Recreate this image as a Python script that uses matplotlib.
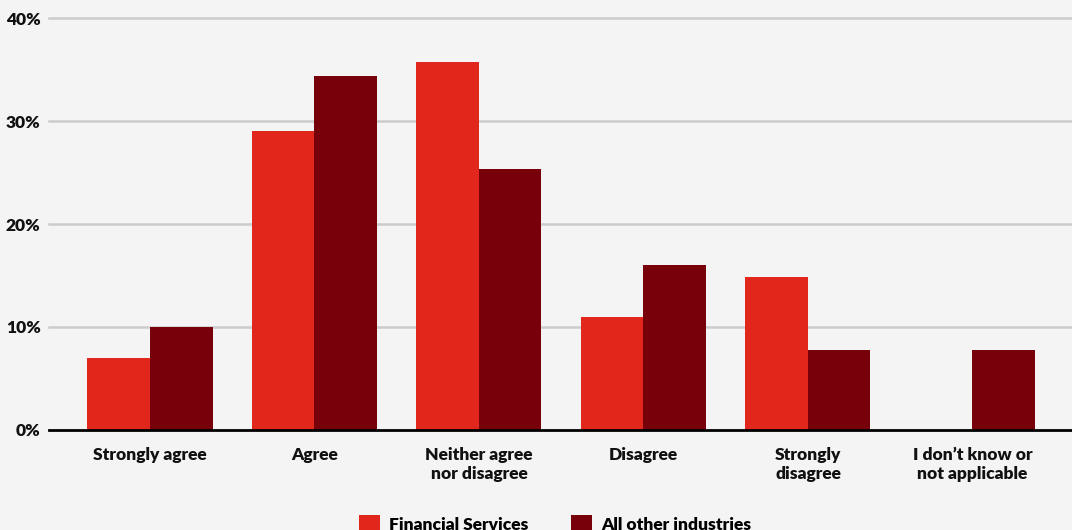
import matplotlib.pyplot as plt
import numpy as np

plt.rcParams['font.family'] = ['Lato', 'DejaVu Sans']
plt.rcParams['font.weight'] = 'heavy'

categories = ["Strongly agree", "Agree", "Neither agree\nnor disagree",
              "Disagree", "Strongly\ndisagree", "I don\u2019t know or\nnot applicable"]
financial = [7.0, 29.0, 35.7, 11.0, 14.9, 0.0]
other = [10.0, 34.4, 25.3, 16.0, 7.8, 7.8]
yticks = [0, 10, 20, 30, 40]

bg = "#f4f4f4"
fig = plt.figure(figsize=(10.72, 5.30), dpi=100, facecolor=bg)
ax = fig.add_axes([0.0457, 0.1887, 0.9543, 0.7773], facecolor=bg)

x = np.arange(len(categories))
w = 0.38
ax.bar(x - w / 2, financial, w, color="#e1261c", label="Financial Services", zorder=3)
ax.bar(x + w / 2, other, w, color="#78000a", label="All other industries", zorder=3)

ax.set_xlim(-0.614, 5.605)
ax.set_ylim(0, 40)
ax.set_yticks(yticks)
ax.set_yticklabels([f"{t}%" for t in yticks])
ax.set_xticks(x)
ax.set_xticklabels(categories, linespacing=1.25)
ax.tick_params(axis='both', length=0, labelsize=12.5, colors="#111111")
ax.tick_params(axis='x', pad=12)
ax.tick_params(axis='y', pad=6)

# gridlines, with the zero line drawn in black
for t in yticks[1:]:
    ax.axhline(t, color="#cccccc", lw=1.8, zorder=1, clip_on=False)
ax.axhline(0, color="#000000", lw=2, zorder=4, clip_on=False)
for s in ax.spines.values():
    s.set_visible(False)

fig.legend(loc='center', bbox_to_anchor=(555 / 1072, 1 - 524 / 530), ncol=2,
           frameon=False, fontsize=12.5, handlelength=1.2, handleheight=1.2,
           handletextpad=0.5, columnspacing=2.5)

fig.savefig("out.png", dpi=100, facecolor=bg)
